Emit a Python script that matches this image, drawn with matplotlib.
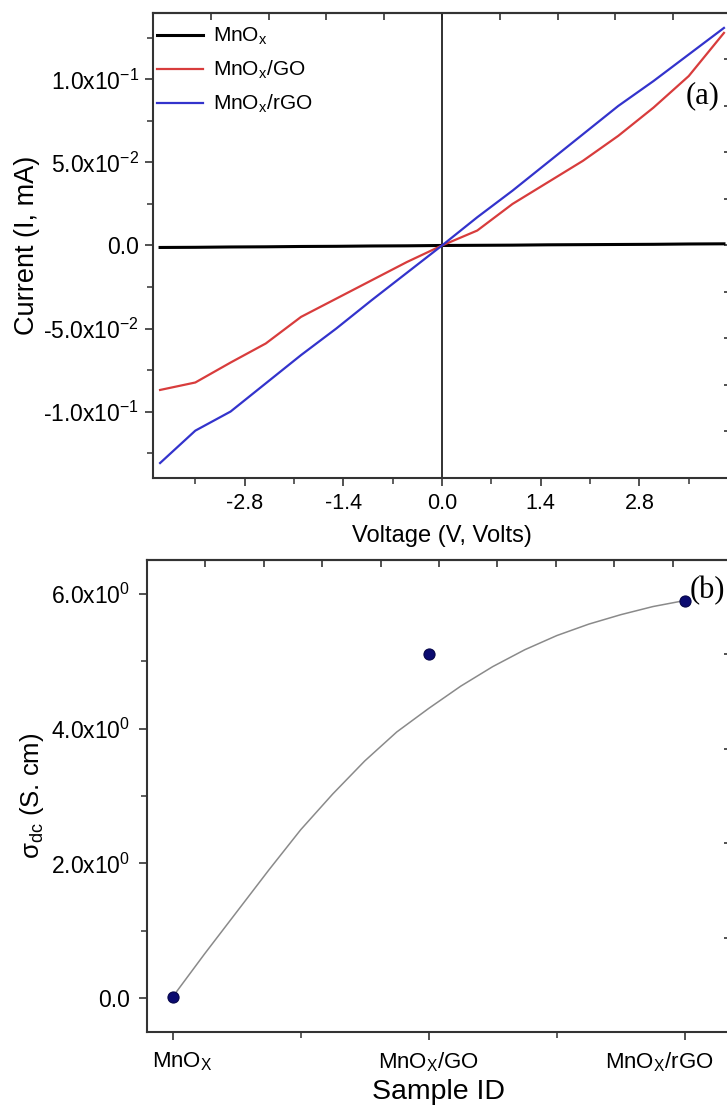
import numpy as np
import matplotlib
matplotlib.use("Agg")
import matplotlib.pyplot as plt
import matplotlib.ticker as ticker
from matplotlib.transforms import ScaledTranslation

plt.rcParams['font.family'] = ['Liberation Sans', 'DejaVu Sans']
plt.rcParams['mathtext.fontset'] = 'custom'
plt.rcParams['mathtext.rm'] = 'Liberation Sans'
plt.rcParams['mathtext.it'] = 'Liberation Sans:italic'
plt.rcParams['mathtext.default'] = 'regular'

# (a) I-V curves
voltage = [-4.0, -3.5, -3.0, -2.5, -2.0, -1.5, -1.0, -0.5, 0.0,
           0.5, 1.0, 1.5, 2.0, 2.5, 3.0, 3.5, 4.0]
i_mnox = [-0.0012, -0.0011, -0.0009, -0.0008, -0.0006, -0.0005, -0.0003, -0.0002, 0.0,
          0.0001, 0.0002, 0.0004, 0.0005, 0.0006, 0.0007, 0.0009, 0.0010]
i_mnox_go = [-0.087, -0.0825, -0.0705, -0.059, -0.043, -0.032, -0.021, -0.010, 0.0,
             0.009, 0.025, 0.038, 0.051, 0.066, 0.083, 0.102, 0.128]
i_mnox_rgo = [-0.131, -0.1115, -0.100, -0.083, -0.066, -0.050, -0.033, -0.0165, 0.0,
              0.017, 0.033, 0.050, 0.067, 0.084, 0.099, 0.115, 0.131]
legend_labels = ['MnO$_x$', 'MnO$_x$/GO', 'MnO$_x$/rGO']

# (b) conductivity
samples = ['MnO$_X$', 'MnO$_X$/GO', 'MnO$_X$/rGO']
sigma_dc = [0.02, 5.1, 5.9]
fit_x = [1.0, 1.125, 1.25, 1.375, 1.5, 1.625, 1.75, 1.875, 2.0,
         2.125, 2.25, 2.375, 2.5, 2.625, 2.75, 2.875, 3.0]
fit_y = [0.02, 0.66, 1.28, 1.9, 2.5, 3.03, 3.52, 3.95, 4.3,
         4.63, 4.92, 5.17, 5.38, 5.55, 5.69, 5.81, 5.9]

fig = plt.figure(figsize=(7.27, 11.09), dpi=100)
spine_col = '#333333'

# ---------- panel (a)
ax1 = fig.add_axes([0.2105, 0.569, 0.795, 0.4193])
ax1.plot(voltage, i_mnox, color='black', lw=2.2, label=legend_labels[0])
ax1.plot(voltage, i_mnox_go, color='#d83c3c', lw=1.6, label=legend_labels[1])
ax1.plot(voltage, i_mnox_rgo, color='#3333cc', lw=1.6, label=legend_labels[2])
ax1.axvline(0, color='#222222', lw=1.3, zorder=1)
ax1.set_xlim(-4.1, 4.1)
ax1.set_ylim(-0.14, 0.14)
ax1.set_xticks([-2.8, -1.4, 0.0, 1.4, 2.8])
ax1.set_xticklabels(['-2.8', '-1.4', '0.0', '1.4', '2.8'])
ax1.xaxis.set_minor_locator(ticker.MultipleLocator(0.7))
ax1.set_yticks([-0.1, -0.05, 0.0, 0.05, 0.1])
ax1.set_yticklabels(['-1.0x10$^{-1}$', '-5.0x10$^{-2}$', '0.0',
                     '5.0x10$^{-2}$', '1.0x10$^{-1}$'])
ax1.yaxis.set_minor_locator(ticker.MultipleLocator(0.025))
ax1.set_xlabel('Voltage (V, Volts)', fontsize=17, labelpad=8)
ax1.set_ylabel('Current (I, mA)', fontsize=19.5, labelpad=2)
leg = ax1.legend(loc='upper left', frameon=False, fontsize=15, handlelength=2.2,
                 handletextpad=0.48, labelspacing=0.56, borderaxespad=0.0,
                 borderpad=0.2, bbox_to_anchor=(0.0, 1.0 - 9 / 465))
ax1.text(3.45, 0.090, '(a)', family='Liberation Serif', fontsize=22,
         ha='left', va='center')

top1 = ax1.secondary_xaxis('top')
top1.set_xticks(np.linspace(-4.1, 4.1, 11), labels=[])
top1.tick_params(direction='in', length=5, width=1.2, color=spine_col)
right1 = ax1.secondary_yaxis('right')
right1.set_yticks(np.linspace(-0.14, 0.14, 11), labels=[])
right1.tick_params(direction='in', length=5, width=1.2, color=spine_col)

# ---------- panel (b)
ax2 = fig.add_axes([0.2022, 0.0694, 0.8033, 0.4256])
ax2.plot(fit_x, fit_y, color='#8a8a8a', lw=1.1, zorder=2)
ax2.plot([1, 2, 3], sigma_dc, 'o', color='#0b0b70', markersize=8,
         markeredgecolor='#06064a', markeredgewidth=0.8, zorder=3)
ax2.set_xlim(0.9, 3.18)
ax2.set_ylim(-0.5, 6.5)
ax2.set_xticks([1, 2, 3])
ax2.set_xticklabels(samples)
ax2.xaxis.set_minor_locator(ticker.MultipleLocator(0.5))
ax2.set_yticks([0, 2, 4, 6])
ax2.set_yticklabels(['0.0', '2.0x10$^{0}$', '4.0x10$^{0}$', '6.0x10$^{0}$'])
ax2.yaxis.set_minor_locator(ticker.MultipleLocator(1.0))
ax2.set_xlabel('Sample ID', fontsize=20.5, labelpad=4)
ax2.set_ylabel('$\\sigma_{dc}$ (S. cm)', fontsize=18.5, labelpad=4)
ax2.text(3.02, 6.04, '(b)', family='Liberation Serif', fontsize=22,
         ha='left', va='center')

top2 = ax2.secondary_xaxis('top')
top2.set_xticks(np.linspace(0.9, 3.18, 11), labels=[])
top2.tick_params(direction='in', length=5, width=1.2, color=spine_col)
right2 = ax2.secondary_yaxis('right')
right2.set_yticks(np.linspace(-0.5, 6.5, 6), labels=[])
right2.tick_params(direction='in', length=5, width=1.2, color=spine_col)

for ax in (ax1, ax2):
    for s in ax.spines.values():
        s.set_color(spine_col)
        s.set_linewidth(1.5)
    ax.tick_params(which='major', direction='out', length=6, width=1.2,
                   color=spine_col, labelsize=15.5, pad=5)
    ax.tick_params(which='minor', direction='out', length=4, width=1.1,
                   color=spine_col)
    ax.tick_params(axis='y', labelsize=16.5, pad=4)
ax2.tick_params(axis='x', labelsize=16, pad=7)
ax2.tick_params(axis='y', pad=6)

# shift the outer sample labels like in the original
xl = ax2.get_xticklabels()
xl[0].set_transform(xl[0].get_transform() + ScaledTranslation(0.10, 0, fig.dpi_scale_trans))
xl[-1].set_transform(xl[-1].get_transform() + ScaledTranslation(-0.26, 0, fig.dpi_scale_trans))

for sec in (top1, right1, top2, right2):
    for s in sec.spines.values():
        s.set_color(spine_col)
        s.set_linewidth(1.5)

fig.savefig('out.png', dpi=100)
